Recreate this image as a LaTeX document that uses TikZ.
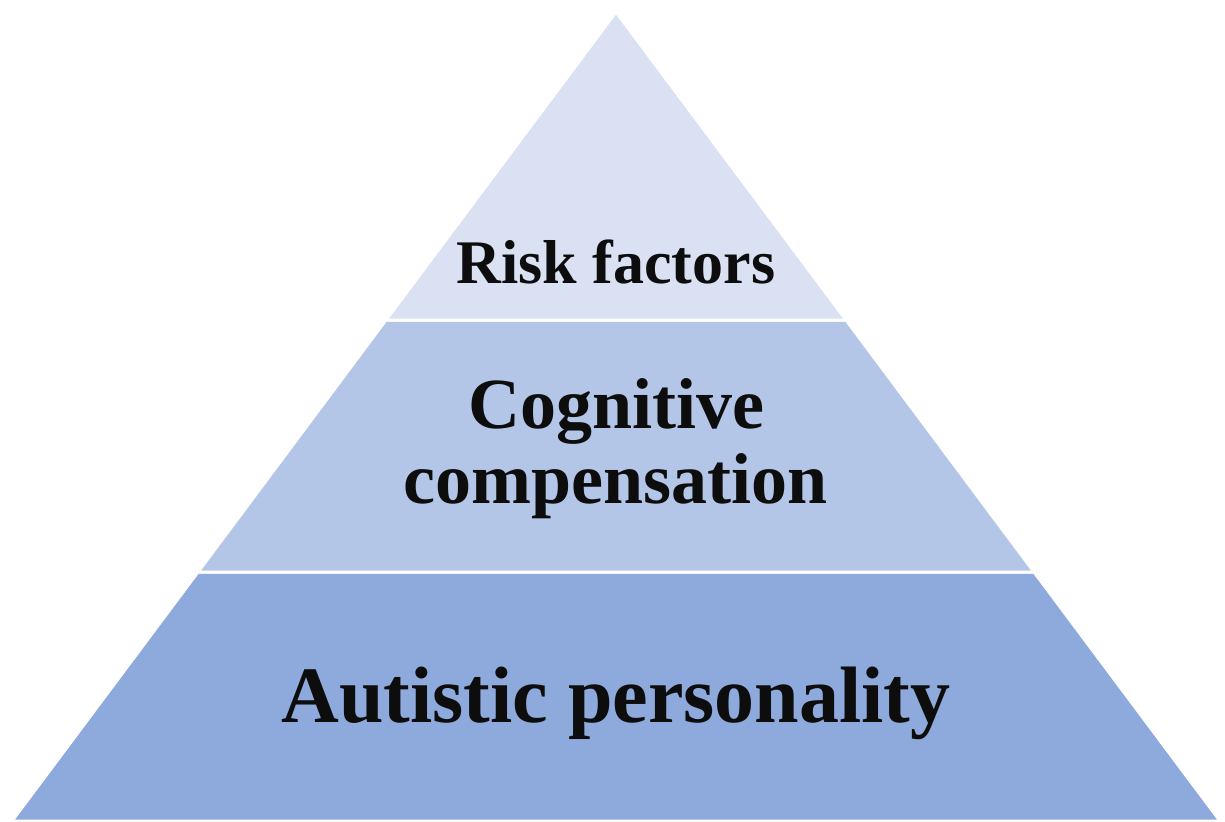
\documentclass[tikz,border=0pt]{standalone}
\usepackage{fontspec}
\setmainfont{Liberation Serif}
\definecolor{layertop}{HTML}{D9E1F2}
\definecolor{layermid}{HTML}{B4C6E7}
\definecolor{layerbot}{HTML}{8EA9DB}
\tikzset{
  layer/.style={draw=white, line width=1.5pt, line join=miter},
  label/.style={anchor=base, inner sep=0pt, font=\bfseries, text=black!95, align=center}
}
\begin{document}
\begin{tikzpicture}[x=0.5pt, y=-0.5pt]
      \useasboundingbox (0,0) rectangle (1225,821);
      \coordinate (apex) at (616,12);
      \coordinate (l1) at (386,320);
      \coordinate (r1) at (846,320);
      \coordinate (l2) at (198,572);
      \coordinate (r2) at (1034,572);
      \coordinate (l3) at (12,821);
      \coordinate (r3) at (1220,821);
      \begin{scope}[layer]
        \filldraw[fill=layerbot] (l2) -- (r2) -- (r3) -- (l3) -- cycle;
        \filldraw[fill=layermid] (l1) -- (r1) -- (r2) -- (l2) -- cycle;
        \filldraw[fill=layertop] (apex) -- (r1) -- (l1) -- cycle;
      \end{scope}
      \draw[draw=none]
        (616,283) node[label, font=\bfseries\fontsize{31}{36}\selectfont] (risk){Risk factors}
        (616,428) node[label, font=\bfseries\fontsize{36}{37.5}\selectfont] (cogn){Cognitive}
        (616,503) node[label, font=\bfseries\fontsize{36}{37.5}\selectfont] (comp){compensation}
        (616,722) node[label, font=\bfseries\fontsize{40}{44}\selectfont] (auti){Autistic personality};
    \end{tikzpicture}
\end{document}
